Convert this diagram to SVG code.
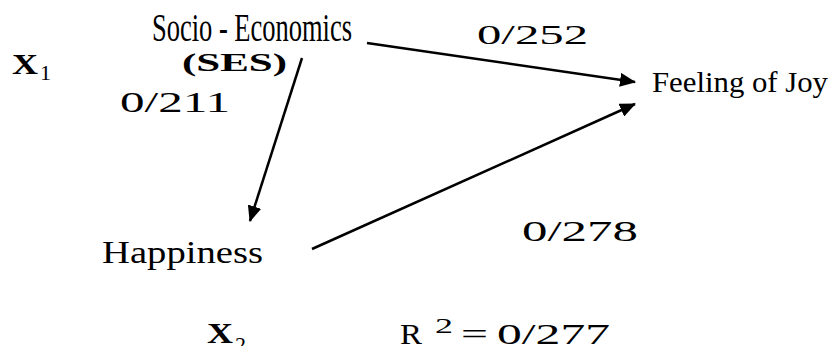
<svg xmlns="http://www.w3.org/2000/svg" width="832" height="346" viewBox="0 0 832 346">
<style>
text{font-family:"Liberation Serif","Times New Roman",serif;fill:#000}
.c{stroke:#000;stroke-width:2.5;fill:none}
</style>
<defs>
<marker id="ah" viewBox="0 0 16 14" refX="15" refY="7" markerWidth="16" markerHeight="14" markerUnits="userSpaceOnUse" orient="auto">
<path d="M0,0 L16,7 L0,14 Z" fill="#000"/>
</marker>
</defs>
<rect width="832" height="346" fill="#fff"/>
<g id="connectors">
<line class="c" x1="367" y1="43" x2="635" y2="82" marker-end="url(#ah)"/>
<line class="c" x1="302" y1="58" x2="250" y2="221" marker-end="url(#ah)"/>
<line class="c" x1="312" y1="249" x2="635" y2="104" marker-end="url(#ah)"/>
</g>
<g id="ses">
<text x="152" y="41" font-size="40" textLength="200" lengthAdjust="spacingAndGlyphs">Socio - Economics</text>
<text x="182" y="71" font-size="26" font-weight="bold" textLength="105" lengthAdjust="spacingAndGlyphs">(SES)</text>
</g>
<g id="x1">
<text x="12" y="74" font-size="30" font-weight="bold" textLength="26" lengthAdjust="spacingAndGlyphs">X</text>
<text x="40" y="80" font-size="22">1</text>
</g>
<g id="label-211"><text x="120" y="112" font-size="30" textLength="110" lengthAdjust="spacingAndGlyphs">0/211</text></g>
<g id="label-252"><text x="477" y="44" font-size="28" textLength="111" lengthAdjust="spacingAndGlyphs">0/252</text></g>
<g id="joy"><text x="652" y="92" font-size="30" textLength="176" lengthAdjust="spacingAndGlyphs">Feeling of Joy</text></g>
<g id="happiness"><text x="102" y="263" font-size="31" textLength="161" lengthAdjust="spacingAndGlyphs">Happiness</text></g>
<g id="label-278"><text x="522" y="241" font-size="29" textLength="116" lengthAdjust="spacingAndGlyphs">0/278</text></g>
<g id="x2">
<text x="207" y="343" font-size="30" font-weight="bold" textLength="26" lengthAdjust="spacingAndGlyphs">X</text>
<text x="235" y="352" font-size="22">2</text>
</g>
<g id="r2">
<text x="400" y="344" font-size="29" textLength="22" lengthAdjust="spacingAndGlyphs">R</text>
<text x="435" y="333" font-size="21" textLength="18" lengthAdjust="spacingAndGlyphs">2</text>
<text x="461" y="344" font-size="29" textLength="27" lengthAdjust="spacingAndGlyphs">=</text>
<text x="497" y="344" font-size="29" textLength="113" lengthAdjust="spacingAndGlyphs">0/277</text>
</g>
</svg>
